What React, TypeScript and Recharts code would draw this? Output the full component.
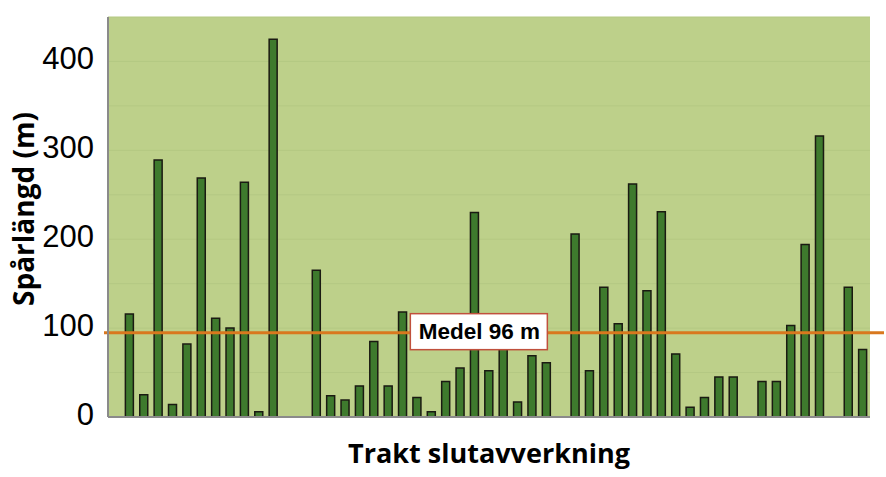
import React from 'react';
import { BarChart, Bar, XAxis, YAxis, CartesianGrid, ReferenceLine, Label } from 'recharts';

// Trakt (slutavverkning) – one slot per trakt, null = no track recorded
const trakter: string[] = Array.from({ length: 53 }, (_, i) => `T${i}`);
const sparlangd: (number | null)[] = [
  null, 116, 25, 289, 14, 82, 269, 111, 100, 264, 6, 425, null, null,
  165, 24, 19, 35, 85, 35, 118, 22, 6, 40, 55, 230, 52, 90, 17, 69, 61,
  null, 206, 52, 146, 105, 262, 142, 231, 71, 11, 22, 45, 45,
  null, 40, 40, 103, 194, 316, null, 146, 76,
];
const yTicks = [0, 50, 100, 150, 200, 250, 300, 350, 400, 450];
const medel = 96;

const data = trakter.map((name, i) => ({ name, value: sparlangd[i] }));

const titleFont = '"Open Sans", "DejaVu Sans", sans-serif';
const tickFont = '"Liberation Sans", Arial, sans-serif';

const MedelLine = (props: any) => {
  const { x1, x2, y1, y2 } = props;
  return <line x1={x1 - 4} x2={x2 + 14} y1={y1 + 1} y2={y2 + 1} stroke="#d9781e" strokeWidth={3} />;
};

const MedelLabel = (props: any) => {
  const { viewBox } = props;
  const cx = viewBox.x + viewBox.width * 0.486;
  const cy = viewBox.y;
  return (
    <g>
      <rect x={cx - 68} y={cy - 18} width={137} height={36} fill="#ffffff" stroke="#c0503c" strokeWidth={1.5} />
      <text x={cx + 1} y={cy} textAnchor="middle" dominantBaseline="central"
        style={{ fontFamily: tickFont, fontWeight: 700, fontSize: 22.5, fill: '#000' }}>
        Medel {medel} m
      </text>
    </g>
  );
};

const YTitle = (props: any) => {
  const { viewBox } = props;
  const cx = viewBox.x + 23;
  const cy = viewBox.y + viewBox.height / 2 - 8;
  return (
    <text x={cx} y={cy} transform={`rotate(-90, ${cx}, ${cy})`} textAnchor="middle" dominantBaseline="central"
      style={{ fontFamily: titleFont, fontWeight: 700, fontSize: 28, fill: '#000' }}>
      Spårlängd (m)
    </text>
  );
};

const XTitle = (props: any) => {
  const { viewBox } = props;
  return (
    <text x={viewBox.x + viewBox.width / 2} y={viewBox.y + 46} textAnchor="middle"
      style={{ fontFamily: titleFont, fontWeight: 700, fontSize: 27, fill: '#000' }}>
      Trakt slutavverkning
    </text>
  );
};

export default function App() {
  return (
    <div style={{ position: 'absolute', left: 0, top: 0, width: 886, height: 477, background: '#fff' }}>
      <BarChart width={886} height={477} data={data} margin={{ top: 17, right: 16, bottom: 0, left: 0 }} barCategoryGap={0}>
        <CartesianGrid vertical={false} stroke="#b4c883" strokeWidth={1} fill="#bdd08a" />
        <XAxis dataKey="name" tick={false} tickLine={false} height={60} stroke="#8a8a8a" strokeWidth={2}>
          <Label content={<XTitle />} />
        </XAxis>
        <XAxis xAxisId="top" orientation="top" dataKey="name" tick={false} tickLine={false} height={0} stroke="#8a8a8a" strokeWidth={2} />
        <YAxis domain={[0, 450]} ticks={yTicks} interval={0} width={108} tickLine={false} tickSize={0} tickMargin={14}
          stroke="#8a8a8a" strokeWidth={2}
          tickFormatter={(v: number) => (v % 100 === 0 && v < 450 ? String(v) : '')}
          tick={{ fill: '#000', fontSize: 31, fontFamily: tickFont, dy: -3 }}>
          <Label content={<YTitle />} />
        </YAxis>
        <YAxis yAxisId="right" orientation="right" domain={[0, 450]} tick={false} tickLine={false} width={0} stroke="#8a8a8a" strokeWidth={2} />
        <Bar dataKey="value" fill="#3e7a2d" stroke="#1a1a12" strokeWidth={1.5} barSize={8} isAnimationActive={false} />
        <ReferenceLine y={medel} shape={<MedelLine />} label={<MedelLabel />} />
      </BarChart>
    </div>
  );
}
